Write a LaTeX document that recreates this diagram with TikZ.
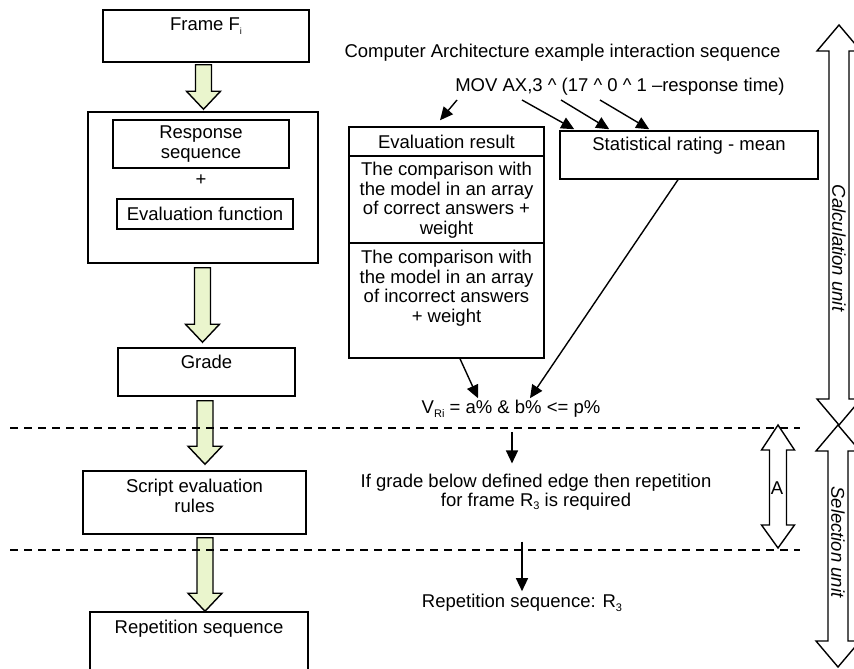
\documentclass[tikz,border=0pt]{standalone}
\usepackage{fontspec}
\setmainfont{Liberation Sans}
\usetikzlibrary{arrows.meta,calc}
\definecolor{gfill}{RGB}{234,245,205}
\newcommand\lowsub[2][11]{\raisebox{-0.35ex}{\fontsize{#1}{#1}\selectfont #2}}
\newcommand\garr[2]{\draw[greenblock] let \p1=(#1), \p2=(#2) in
  (\x1-8pt,\y1) -- (\x1+8pt,\y1) -- (\x1+8pt,\y2+18pt) -- (\x1+17pt,\y2+18pt) --
  (\x1,\y2) -- (\x1-17pt,\y2+18pt) -- (\x1-8pt,\y2+18pt) -- cycle;}
\begin{document}
\begin{tikzpicture}[x=1pt,y=-1pt,line join=miter,
  box/.style={draw,line width=1.5pt,inner sep=0pt},
  txt/.style={font=\fontsize{18.5}{19.5}\selectfont,inner sep=0pt,align=center},
  conn/.style={line width=1.4pt,-{Triangle[length=13pt,width=12pt]}},
  sepline/.style={line width=1.2pt,dash pattern=on 8pt off 6pt},
  blockarrow/.style={draw,line width=1.4pt,fill=white},
  greenblock/.style={draw,line width=1.4pt,fill=gfill}]
\useasboundingbox (0,0) rectangle (854,669);
\clip (0,0) rectangle (854,669);

% left column
\node[box,minimum width=206pt,minimum height=52pt] (frame) at (206,36) {};
\node[txt] (frameT) at (206,26) {Frame F\lowsub[9]{i}};
\node[box,minimum width=230pt,minimum height=151pt] (big) at (203,187.5) {};
\node[box,minimum width=176pt,minimum height=48pt] (resp) at (201,144) {};
\node[txt] (respT) at (201,144) {Response\\sequence};
\node[txt] (plus) at (201,180) {+};
\node[box,minimum width=176pt,minimum height=30pt] (evalf) at (205,214) {};
\node[txt] (evalfT) at (205,214) {Evaluation function};
\node[box,minimum width=177pt,minimum height=48pt] (grade) at (206.5,372) {};
\node[txt] (gradeT) at (206.5,362) {Grade};
\node[box,minimum width=223pt,minimum height=63pt] (script) at (194.5,502.5) {};
\node[txt] (scriptT) at (194.5,496) {Script evaluation\\rules};
\node[box,minimum width=218pt,minimum height=68pt] (rep) at (199,646) {};
\node[txt] (repT) at (199,629) {Repetition sequence};

\garr{$(frame.south)+(-2.5,2)$}{$(big.north)+(0,-2)$}
\garr{$(big.south)+(-0.5,4)$}{$(grade.north)+(0,-5)$}
\garr{$(grade.south)+(-1.5,4)$}{$(script.north)+(0,-6)$}
\garr{$(script.south)+(10.5,3)$}{$(rep.north)+(0,0)$}

% middle
\node[txt] (title) at (562.5,53) {Computer Architecture example interaction sequence};
\node[txt] (mov) at (620,87) {MOV AX,3 \^{} (17 \^{} 0 \^{} 1 –response time)};
\node[box,minimum width=195pt,minimum height=29pt] (evalres) at (446.5,141.5) {};
\node[txt] (evalresT) at (446.5,141.5) {Evaluation result};
\node[box,minimum width=195pt,minimum height=87pt] (cmp1) at (446.5,199.5) {};
\node[txt] (cmp1T) at (446.5,200) {The comparison with\\the model in an array\\of correct answers +\\weight};
\node[box,minimum width=195pt,minimum height=115pt] (cmp2) at (446.5,300.5) {};
\node[txt] (cmp2T) at (446.5,288) {The comparison with\\the model in an array\\of incorrect answers\\+ weight};
\node[box,minimum width=258pt,minimum height=48pt] (stat) at (689,155) {};
\node[txt] (statT) at (689,146) {Statistical rating - mean};
\node[txt] (vri) at (511,409) {V\lowsub{Ri} = a\% \& b\% <= p\%};
\node[txt] (cond) at (536,492) {If grade below defined edge then repetition\\for frame R\lowsub{3} is required};
\node[txt] (repseq) at (522,603) {Repetition sequence: R\lowsub{3}};

\coordinate (m0) at (457,100);
\coordinate (m1) at (522,100);
\coordinate (m2) at (561,100);
\coordinate (m3) at (600,100);
\draw[conn] (m0) -- ($(evalres.north)+(-6.5,-6)$);
\draw[conn] (m1) -- ($(stat.north west)+(15,-1)$);
\draw[conn] (m2) -- ($(stat.north west)+(50,-1)$);
\draw[conn] (m3) -- ($(stat.north west)+(90,-1)$);
\draw[conn] ($(cmp2.south)+(13.5,0)$) -- ($(vri.north)+(-33,-2)$);
\draw[conn] ($(stat.south)+(-11,0)$) -- ($(vri.north)+(19,-2)$);
\draw[conn] ($(vri.south)+(1,14)$) -- ($(cond.north)+(-24,-10)$);
\draw[conn] ($(cond.south)+(-14,31)$) -- ($(repseq.north)+(0,-3)$);

% separators
\draw[sepline] (10,428) -- (800,428);
\draw[sepline] (10,550) -- (800,550);

% unit arrows
\draw[blockarrow] (839,25) -- (861,51) -- (849,51) -- (849,399) -- (861,399) -- (839,425)
  -- (817,399) -- (829,399) -- (829,51) -- (817,51) -- cycle;
\node[txt,font=\fontsize{18.5}{19.5}\selectfont\itshape,rotate=-90] (calcT) at (839,248) {Calculation unit};
\draw[blockarrow] (838,425) -- (860,451) -- (848,451) -- (848,641) -- (860,641) -- (838,667)
  -- (816,641) -- (828,641) -- (828,451) -- (816,451) -- cycle;
\node[txt,font=\fontsize{18.5}{19.5}\selectfont\itshape,rotate=-90] (selT) at (838,542) {Selection unit};
\draw[blockarrow] (778,425) -- (794.5,450) -- (786.5,450) -- (786.5,525) -- (794.5,525) -- (778,548)
  -- (761.5,525) -- (769.5,525) -- (769.5,450) -- (761.5,450) -- cycle;
\node[txt] (aT) at (777,488) {A};
\end{tikzpicture}
\end{document}
